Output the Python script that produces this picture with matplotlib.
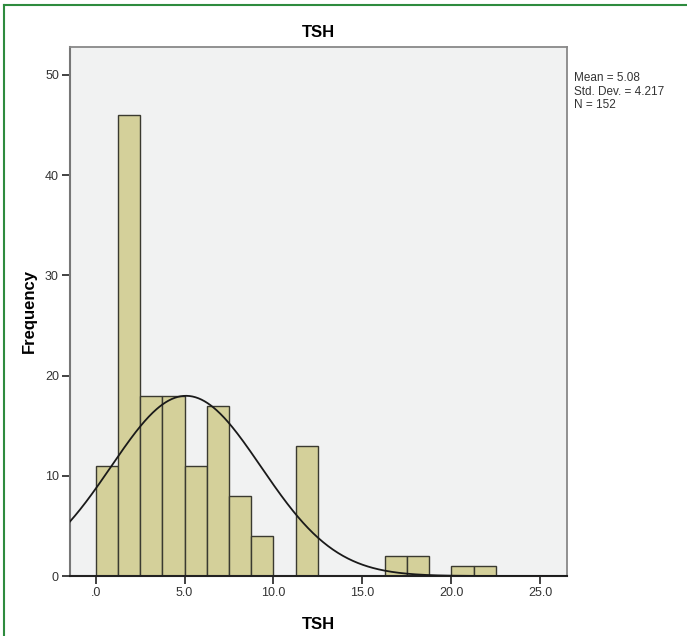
import numpy as np
import matplotlib
matplotlib.use("Agg")
import matplotlib.pyplot as plt
from matplotlib.lines import Line2D

# Dados do histograma (SPSS, largura de classe 1.25)
bin_edges = [0.0, 1.25, 2.5, 3.75, 5.0, 6.25, 7.5, 8.75, 10.0, 11.25, 12.5,
             13.75, 15.0, 16.25, 17.5, 18.75, 20.0, 21.25, 22.5]
frequencias = [11, 46, 18, 18, 11, 17, 8, 4, 0, 13, 0, 0, 0, 2, 2, 0, 1, 1]
media = 5.08
desvio = 4.217
n_total = 152
xticks = [0, 5, 10, 15, 20, 25]
xtick_labels = [".0", "5.0", "10.0", "15.0", "20.0", "25.0"]
yticks = [0, 10, 20, 30, 40, 50]

plt.rcParams['font.family'] = ['Liberation Sans', 'DejaVu Sans']

fig = plt.figure(figsize=(6.87, 6.36), dpi=100)
ax = fig.add_axes([0.1019, 0.0943, 0.7234, 0.8323])
ax.set_facecolor('#f1f2f2')

larguras = np.diff(bin_edges)
for esq, w, f in zip(bin_edges[:-1], larguras, frequencias):
    if f > 0:
        ax.bar(esq, f, width=w, align='edge', color='#d4d09a',
               edgecolor='#3a3a30', linewidth=1.0, zorder=2)

# Curva normal
xmin, xmax = -1.44, 26.5
xs = np.linspace(xmin, xmax, 500)
bw = larguras[0]
ys = n_total * bw / (desvio * np.sqrt(2 * np.pi)) * np.exp(-0.5 * ((xs - media) / desvio) ** 2)
ax.plot(xs, ys, color='#1a1a1a', linewidth=1.3, zorder=3)

ax.set_xlim(xmin, xmax)
ax.set_ylim(0, 52.8)
ax.set_xticks(xticks)
ax.set_xticklabels(xtick_labels)
ax.set_yticks(yticks)
ax.tick_params(axis='both', direction='out', length=6, width=1.3, color='#333333',
               labelsize=9, labelcolor='#333333', pad=2)

for lado in ['top', 'right']:
    ax.spines[lado].set_color('#888888')
    ax.spines[lado].set_linewidth(1.3)
ax.spines['left'].set_color('#777777')
ax.spines['left'].set_linewidth(1.5)
ax.spines['bottom'].set_color('#222222')
ax.spines['bottom'].set_linewidth(1.5)

ax.set_title("TSH", fontsize=12, fontweight='bold', pad=7)
ax.set_xlabel("TSH", fontsize=12, fontweight='bold', labelpad=13)
ax.set_ylabel("Frequency", fontsize=12, fontweight='bold', labelpad=6)

fig.text(0.8355, 0.887, f"Mean = {media:.2f}\nStd. Dev. = {desvio:.3f}\nN = {n_total}",
         fontsize=8.5, color='#333333', va='top', ha='left', linespacing=1.2)

# Borda verde (esquerda e topo)
fig.add_artist(Line2D([0.0058, 0.0058], [0, 0.992], transform=fig.transFigure,
                      color='#2e8b3e', linewidth=1.5))
fig.add_artist(Line2D([0.0058, 1.0], [0.992, 0.992], transform=fig.transFigure,
                      color='#2e8b3e', linewidth=1.5))

fig.savefig("out.png", dpi=100)
